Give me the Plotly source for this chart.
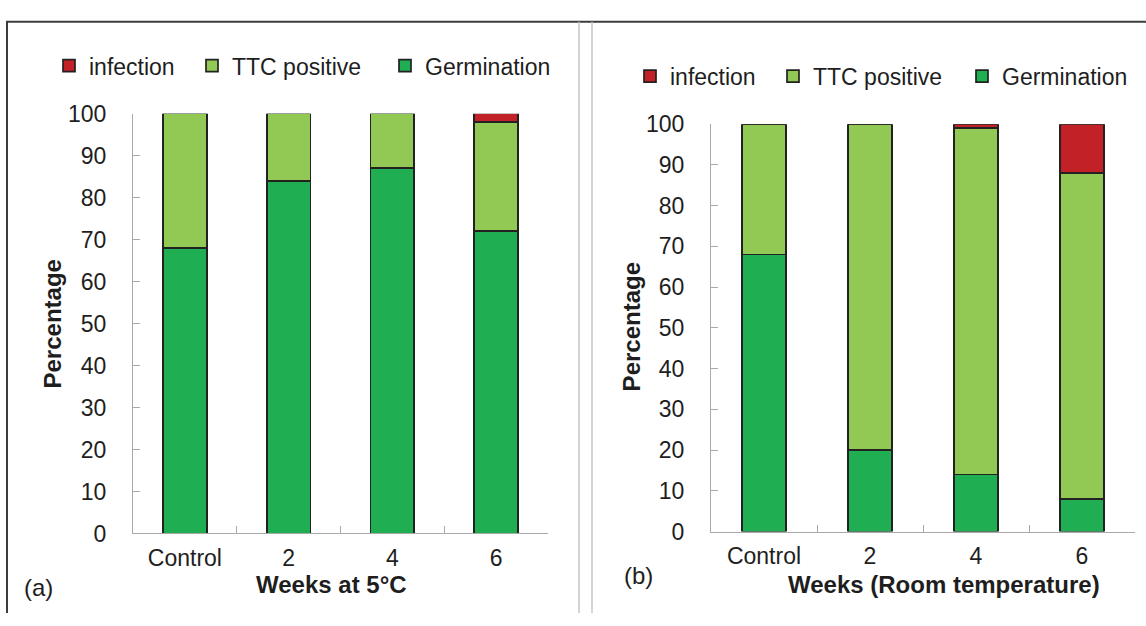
import plotly.graph_objects as go

W, H = 1146, 626

categories = ["Control", "2", "4", "6"]
series_names = ["Germination", "TTC positive", "infection"]
colors = ["#1FAE52", "#92C955", "#C22127"]

cold_germ = [68, 84, 87, 72]
cold_ttc = [32, 16, 13, 26]
cold_inf = [0, 0, 0, 2]

room_germ = [68, 20, 14, 8]
room_ttc = [32, 80, 85, 80]
room_inf = [0, 0, 1, 12]

y_ticks = [0, 10, 20, 30, 40, 50, 60, 70, 80, 90, 100]

FONT = "Liberation Sans, Arial, sans-serif"
TXT = "#1e1e1e"
AX = "#a9a9a9"


def px(x):
    return x / W


def py(y):
    return (H - y) / H


fig = go.Figure()

# legend entry widths, in trace order (Germination, TTC positive, infection)
left_widths = [130, 148, 98]
right_widths = [130, 144, 98]

for vals, name, col, lw in zip([cold_germ, cold_ttc, cold_inf], series_names, colors, left_widths):
    fig.add_trace(go.Bar(x=categories, y=vals, name=name, marker=dict(color=col, line=dict(color="#222222", width=1.7)),
                         width=0.42, xaxis="x", yaxis="y", legend="legend", legendwidth=lw))
for vals, name, col, lw in zip([room_germ, room_ttc, room_inf], series_names, colors, right_widths):
    fig.add_trace(go.Bar(x=categories, y=vals, name=name, marker=dict(color=col, line=dict(color="#222222", width=1.7)),
                         width=0.41, xaxis="x2", yaxis="y2", legend="legend2", legendwidth=lw))

xcommon = dict(type="category", showline=True, linecolor=AX, linewidth=1, ticks="inside", tickson="boundaries",
               ticklen=7, tickcolor=AX, showgrid=False, zeroline=False, range=[-0.5, 3.5],
               tickfont=dict(family=FONT, size=23, color=TXT), ticklabelstandoff=4)
ycommon = dict(range=[0, 100], tickvals=y_ticks, showline=True, linecolor=AX, linewidth=1, ticks="inside",
               ticklen=7, tickcolor=AX, showgrid=False, zeroline=False,
               tickfont=dict(family=FONT, size=23, color=TXT), ticklabelstandoff=21)

legcommon = dict(orientation="h", traceorder="reversed", bgcolor="rgba(0,0,0,0)", borderwidth=0,
                 font=dict(family=FONT, size=23, color=TXT), xanchor="left", yanchor="middle")

fig.update_layout(
    width=W, height=H, margin=dict(l=0, r=0, t=0, b=0),
    paper_bgcolor="white", plot_bgcolor="white",
    barmode="stack", showlegend=True,
    xaxis=dict(domain=[px(133), px(548)], anchor="y", **xcommon),
    yaxis=dict(domain=[py(543), py(105)], anchor="x", **ycommon),
    xaxis2=dict(domain=[px(711), px(1135)], anchor="y2", **xcommon),
    yaxis2=dict(domain=[py(541), py(116)], anchor="x2", **ycommon),
    legend=dict(x=px(49), y=py(55), **legcommon),
    legend2=dict(x=px(630), y=py(66), **legcommon),
)

annots = [
    dict(text="<b>Percentage</b>", x=px(53), y=py(325), textangle=-90, size=24),
    dict(text="<b>Percentage</b>", x=px(631), y=py(328), textangle=-90, size=24),
    dict(text="<b>Weeks at 5°C</b>", x=px(331), y=py(596), textangle=0, size=24),
    dict(text="<b>Weeks (Room temperature)</b>", x=px(944), y=py(596), textangle=0, size=24),
    dict(text="(a)", x=px(38), y=py(599), textangle=0, size=24),
    dict(text="(b)", x=px(638), y=py(587), textangle=0, size=24),
]
for a in annots:
    fig.add_annotation(text=a["text"], x=a["x"], y=a["y"], xref="paper", yref="paper", showarrow=False,
                       textangle=a["textangle"], xanchor="center", yanchor="middle",
                       font=dict(family=FONT, size=a["size"], color=TXT))

shapes = [
    dict(x0=px(6), x1=1, y0=py(9), y1=py(9), color="#3c3c3c", width=2),
    dict(x0=px(7), x1=px(7), y0=py(9), y1=0, color="#3c3c3c", width=2),
    dict(x0=px(579), x1=px(579), y0=py(9), y1=0, color="#c4c4c4", width=1.5),
    dict(x0=px(592), x1=px(592), y0=py(9), y1=0, color="#c4c4c4", width=1.5),
]
for s in shapes:
    fig.add_shape(type="line", xref="paper", yref="paper", x0=s["x0"], x1=s["x1"], y0=s["y0"], y1=s["y1"],
                  line=dict(color=s["color"], width=s["width"]))

fig.write_html("out.html")
